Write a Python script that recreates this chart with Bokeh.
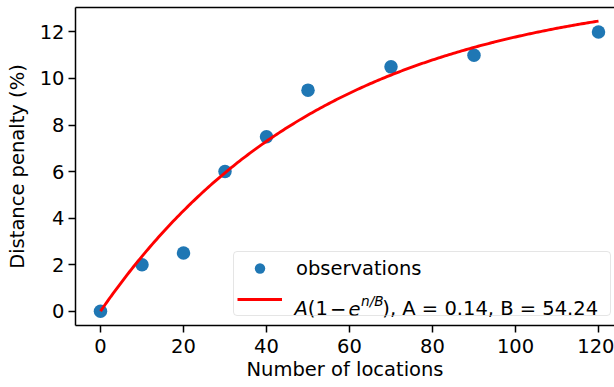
import numpy as np
from bokeh.plotting import figure
from bokeh.models import (Range1d, LinearAxis, FixedTicker, Legend, LegendItem, Label)
from bokeh.embed import file_html
from bokeh.resources import INLINE

# ---- data ----
locations = [0, 10, 20, 30, 40, 50, 70, 90, 120]
penalty = [0, 2, 2.5, 6, 7.5, 9.5, 10.5, 11, 12]
FIT_A = 0.14
FIT_B = 54.24
x_ticks = [0, 20, 40, 60, 80, 100, 120]
y_ticks = [0, 2, 4, 6, 8, 10, 12]
x_label = "Number of locations"
y_label = "Distance penalty (%)"
obs_label = "observations"
fit_label_rest = "), A = %.2f, B = %.2f" % (FIT_A, FIT_B)

# fitted model curve A(1 - exp(-n/B)), in percent
n_fit = np.linspace(0, max(locations), 241)
pen_fit = 100 * FIT_A * (1 - np.exp(-n_fit / FIT_B))

FONT = "DejaVu Sans"
FS = "19.5px"
SUP_FS = "13.65px"

p = figure(width=614, height=387,
           x_range=Range1d(-6.024, 123.855), y_range=Range1d(-0.6145, 13.051),
           output_backend="svg", toolbar_location=None,
           min_border_left=75, min_border_right=0, min_border_top=7, min_border_bottom=62,
           x_axis_label=x_label, y_axis_label=y_label)
p.outline_line_color = None
p.xgrid.grid_line_color = None
p.ygrid.grid_line_color = None
p.background_fill_color = "white"
p.border_fill_color = "white"

p.xaxis.ticker = FixedTicker(ticks=x_ticks)
p.yaxis.ticker = FixedTicker(ticks=y_ticks)
for ax in (p.xaxis[0], p.yaxis[0]):
    ax.axis_line_color = "black"
    ax.axis_line_width = 1.5
    ax.major_tick_line_color = "black"
    ax.major_tick_line_width = 1.5
    ax.major_tick_out = 7
    ax.major_tick_in = 0
    ax.minor_tick_line_color = None
    ax.major_label_text_font = FONT
    ax.major_label_text_font_size = FS
    ax.major_label_text_color = "black"
    ax.axis_label_text_font = FONT
    ax.axis_label_text_font_size = FS
    ax.axis_label_text_font_style = "normal"
    ax.axis_label_text_color = "black"
p.yaxis.major_label_standoff = 4
p.yaxis.axis_label_standoff = 8
p.xaxis.major_label_standoff = 6
p.xaxis.axis_label_standoff = 2

top = LinearAxis(ticker=FixedTicker(ticks=[]), major_tick_out=0, major_tick_in=0,
                 minor_tick_out=0, minor_tick_in=0, major_label_standoff=0,
                 axis_line_color="black", axis_line_width=1.5)
p.add_layout(top, "above")

sc = p.scatter(locations, penalty, size=13.5, fill_color="#1f77b4", line_color="#1f77b4", line_width=0)
ln = p.line(n_fit, pen_fit, line_color="red", line_width=2.9)

legend = Legend(items=[LegendItem(label=obs_label, renderers=[sc]),
                       LegendItem(label=" ", renderers=[ln])],
                location=(158, 9), margin=0, padding=3, spacing=5,
                glyph_width=45, glyph_height=26, label_height=26, label_width=311,
                label_standoff=14,
                label_text_font=FONT, label_text_font_size=FS, label_text_color="black",
                border_line_color="#cccccc", border_line_width=1.5,
                background_fill_color=None)
if "border_radius" in Legend.properties():
    legend.border_radius = 4
p.add_layout(legend)

# math-styled legend label pieces:  A(1 - e^{n/B}), A = ..., B = ...
pieces = [
    ("A", 219, 17, FS, "italic"),
    ("(1", 232.3, 17, FS, "normal"),
    ("\u2212", 254.5, 17, FS, "normal"),
    ("e", 273, 17, FS, "italic"),
    ("n/B", 285.5, 24.5, SUP_FS, "italic"),
    (fit_label_rest, 306.8, 17, FS, "normal"),
]
for txt, sx, sy, fs, style in pieces:
    p.add_layout(Label(x=sx, y=sy, x_units="screen", y_units="screen", text=txt, level="overlay",
                       text_font=FONT, text_font_size=fs, text_font_style=style,
                       text_baseline="alphabetic", text_align="left", text_color="black"))

open("out.html", "w").write(file_html(p, INLINE))
